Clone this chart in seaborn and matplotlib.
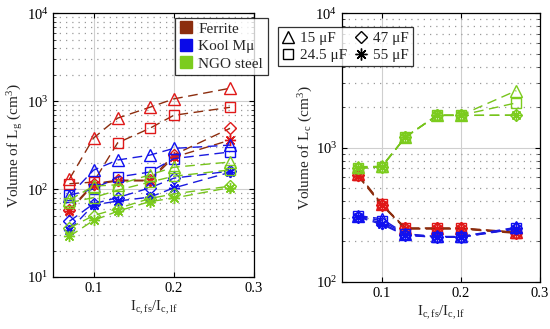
#!/usr/bin/env python3
"""Volume of Lg and Lc vs current ripple ratio, three core materials."""
import matplotlib
matplotlib.use("Agg")
import matplotlib.pyplot as plt
from matplotlib.lines import Line2D
from matplotlib.ticker import LogLocator, NullFormatter
import numpy as np
import pandas as pd
import seaborn as sns

# ripple ratio I_c,fs / I_c,lf
ratio = [0.07, 0.10, 0.13, 0.17, 0.20, 0.27]
caps = ["15 μF", "24.5 μF", "47 μF", "55 μF"]
materials = ["Ferrite", "Kool Mμ", "NGO steel"]

# volume of Lg (cm^3), per material and capacitance
lg_ferrite_15 = [130, 380, 640, 850, 1060, 1400]
lg_ferrite_24 = [115, 120, 335, 490, 690, 850]
lg_ferrite_47 = [58, 115, 126, 126, 245, 490]
lg_ferrite_55 = [56, 112, 124, 124, 230, 360]
lg_kool_15 = [84, 164, 214, 243, 290, 316]
lg_kool_24 = [85, 100, 137, 156, 222, 264]
lg_kool_47 = [43, 68, 80, 103, 133, 160]
lg_kool_55 = [34, 66, 73, 81, 103, 155]
lg_ngo_15 = [75, 108, 112, 145, 177, 203]
lg_ngo_24 = [70, 80, 97, 120, 140, 165]
lg_ngo_47 = [36, 50, 60, 78, 88, 108]
lg_ngo_55 = [29, 44, 56, 72, 79, 104]

# volume of Lc (cm^3)
lc_ferrite_15 = [640, 380, 252, 252, 252, 235]
lc_ferrite_24 = [630, 378, 250, 250, 250, 233]
lc_ferrite_47 = [620, 375, 250, 250, 250, 232]
lc_ferrite_55 = [615, 372, 248, 248, 248, 230]
lc_kool_15 = [312, 295, 228, 218, 218, 255]
lc_kool_24 = [310, 285, 226, 217, 217, 252]
lc_kool_47 = [306, 275, 223, 215, 215, 250]
lc_kool_55 = [304, 268, 222, 215, 215, 248]
lc_ngo_15 = [720, 725, 1200, 1740, 1740, 2650]
lc_ngo_24 = [705, 720, 1200, 1740, 1740, 2150]
lc_ngo_47 = [700, 718, 1195, 1735, 1735, 1745]
lc_ngo_55 = [700, 718, 1195, 1735, 1735, 1740]

lg_values = {
    "Ferrite": [lg_ferrite_15, lg_ferrite_24, lg_ferrite_47, lg_ferrite_55],
    "Kool Mμ": [lg_kool_15, lg_kool_24, lg_kool_47, lg_kool_55],
    "NGO steel": [lg_ngo_15, lg_ngo_24, lg_ngo_47, lg_ngo_55],
}
lc_values = {
    "Ferrite": [lc_ferrite_15, lc_ferrite_24, lc_ferrite_47, lc_ferrite_55],
    "Kool Mμ": [lc_kool_15, lc_kool_24, lc_kool_47, lc_kool_55],
    "NGO steel": [lc_ngo_15, lc_ngo_24, lc_ngo_47, lc_ngo_55],
}

LINE_COLORS = {"Ferrite": "#8c2d0e", "Kool Mμ": "#1a1adf", "NGO steel": "#77c41c"}
MARKER_COLORS = {"Ferrite": "#e01818", "Kool Mμ": "#1010f0", "NGO steel": "#7ccc1e"}
PATCH_COLORS = {"Ferrite": "#8c2d0e", "Kool Mμ": "#0a0ae8", "NGO steel": "#7ccc1e"}
MARKERS = {"15 μF": "^", "24.5 μF": "s", "47 μF": "D", "55 μF": (8, 2, 0)}
MSIZE = {"15 μF": 8, "24.5 μF": 6.5, "47 μF": 6, "55 μF": 8}


def to_long(values: dict) -> pd.DataFrame:
    rows = []
    for mat in materials:
        for cap, series in zip(caps, values[mat]):
            for x, y in zip(ratio, series):
                rows.append({"material": mat, "cap": cap, "ratio": x, "volume": y})
    return pd.DataFrame(rows)


sns.set_style("ticks")
plt.rcParams.update({
    "font.family": ["Liberation Serif", "DejaVu Serif"],
    "mathtext.fontset": "stix",
    "font.size": 10.5,
    "axes.linewidth": 0.9,
    "xtick.direction": "in",
    "ytick.direction": "in",
    "xtick.top": True,
    "ytick.right": True,
})

fig = plt.figure(figsize=(5.5, 3.29), dpi=100)
ax_g = fig.add_axes([0.097, 0.158, 0.365, 0.802])
ax_c = fig.add_axes([0.622, 0.143, 0.36, 0.817])


def draw(ax, df, ylim):
    for (mat, cap), sub in df.groupby(["material", "cap"], sort=False):
        sns.lineplot(data=sub, x="ratio", y="volume", ax=ax, color=LINE_COLORS[mat],
                     linestyle=(0, (7, 4)), linewidth=1.0, marker=MARKERS[cap],
                     markersize=MSIZE[cap], markerfacecolor="none",
                     markeredgecolor=MARKER_COLORS[mat], markeredgewidth=1.0,
                     legend=False, zorder=3)
    ax.set_yscale("log")
    ax.set_xlim(0.05, 0.3)
    ax.set_ylim(*ylim)
    ax.set_xticks([0.1, 0.2, 0.3])
    ax.set_xticklabels(["0.1", "0.2", "0.3"])
    ax.yaxis.set_minor_locator(LogLocator(base=10, subs=np.arange(2, 10), numticks=20))
    ax.yaxis.set_minor_formatter(NullFormatter())
    ax.set_axisbelow(True)
    ax.yaxis.grid(True, which="minor", color="#9a9a9a", linewidth=0.9, linestyle=(0, (1, 4)))
    ax.grid(True, which="major", color="#cfcfcf", linewidth=0.8, linestyle="-")
    ax.tick_params(which="major", length=3.5, width=0.8, labelsize=10.5, colors="black")
    ax.tick_params(which="minor", length=2, width=0.6)
    ax.set_xlabel(r"I$_\mathregular{c,fs}$/I$_\mathregular{c,lf}$", fontsize=10.5, labelpad=3)
    for s in ax.spines.values():
        s.set_color("black")


draw(ax_g, to_long(lg_values), (10, 1e4))
ax_g.set_ylabel(r"Volume of L$_\mathregular{g}$ (cm$^\mathregular{3}$)", fontsize=11, labelpad=1)

draw(ax_c, to_long(lc_values), (100, 1e4))
ax_c.set_ylabel(r"Volume of L$_\mathregular{c}$ (cm$^\mathregular{3}$)", fontsize=11, labelpad=1)

mat_handles = [Line2D([], [], linestyle="none", marker="s", markersize=8,
                      markerfacecolor=PATCH_COLORS[m], markeredgecolor=PATCH_COLORS[m])
               for m in materials]
leg1 = fig.legend(mat_handles, materials, loc="upper left", bbox_to_anchor=(0.305, 0.97),
                  frameon=True, fancybox=False, edgecolor="black", fontsize=11,
                  handlelength=0.8, handletextpad=0.4, borderpad=0.3, labelspacing=0.25)
leg1.get_frame().set_linewidth(0.9)

cap_handles = [Line2D([], [], linestyle="none", marker=MARKERS[c], markersize=MSIZE[c] + 0.5,
                      markerfacecolor="none", markeredgecolor="black", markeredgewidth=1.0)
               for c in caps]
leg2 = fig.legend(cap_handles, caps, loc="upper left", bbox_to_anchor=(0.492, 0.94), ncol=2,
                  frameon=True, fancybox=False, edgecolor="black", fontsize=11,
                  handlelength=0.8, handletextpad=0.4, borderpad=0.25, labelspacing=0.25,
                  columnspacing=0.5)
leg2.get_frame().set_linewidth(0.9)

fig.savefig("out.png", dpi=100, facecolor="white")
